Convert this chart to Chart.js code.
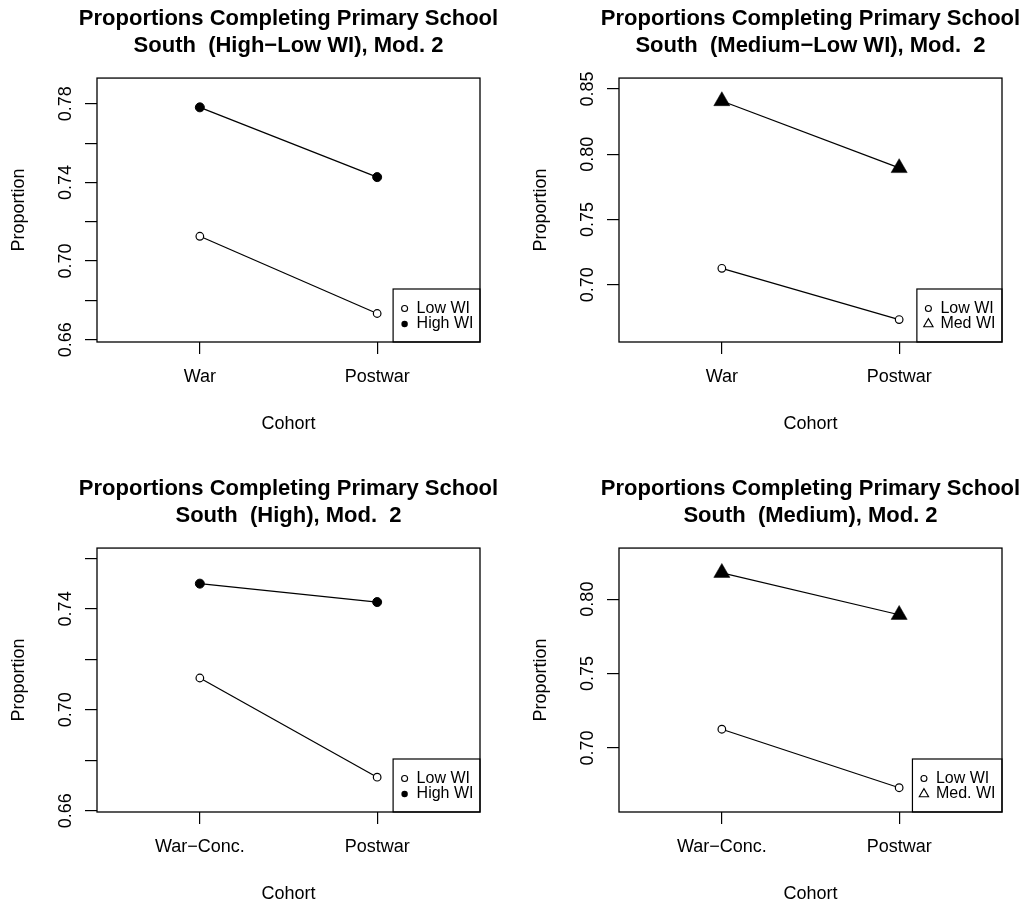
<!DOCTYPE html>
<html>
<head>
<meta charset="utf-8">
<title>Proportions Completing Primary School</title>
<script src="https://cdn.jsdelivr.net/npm/chart.js@4.4.1/dist/chart.umd.min.js"></script>
<style>
  html, body { margin: 0; padding: 0; background: #fff; overflow: hidden; width: 1026px; height: 907px; }
  canvas { position: absolute; }
</style>
</head>
<body>
<canvas id="highLow" width="577" height="453" style="left:0;top:0"></canvas>
<canvas id="medLow" width="577" height="453" style="left:522px;top:0"></canvas>
<canvas id="high" width="577" height="437" style="left:0;top:470px"></canvas>
<canvas id="medium" width="577" height="437" style="left:522px;top:470px"></canvas>
<script>
// cohorts on the x axis
const warCohorts = ['War', 'Postwar'];
const concCohorts = ['War\u2212Conc.', 'Postwar'];

// predicted proportions, Mod. 2
const lowWI = [0.7126, 0.6733];
const highWI = [0.7782, 0.7427];
const medWI = [0.8408, 0.7895];
const highWIConc = [0.7500, 0.7427];
const medWIConc = [0.8177, 0.7895];

// y ticks; R leaves out labels that would collide
const ticksHighLow = [0.66, 0.68, 0.70, 0.72, 0.74, 0.76, 0.78];
const labelsHighLow = ['0.66', '', '0.70', '', '0.74', '', '0.78'];
const ticksMedLow = [0.70, 0.75, 0.80, 0.85];
const labelsMedLow = ['0.70', '0.75', '0.80', '0.85'];
const ticksHigh = [0.66, 0.68, 0.70, 0.72, 0.74, 0.76];
const labelsHigh = ['0.66', '', '0.70', '', '0.74', ''];
const ticksMedium = [0.70, 0.75, 0.80];
const labelsMedium = ['0.70', '0.75', '0.80'];

const BLACK = '#000';
const FONT = "'Liberation Sans', Arial, Helvetica, sans-serif";

function series(label, values, mark) {
  const ds = {
    label: label,
    data: values.map((v, i) => ({ x: i + 1, y: v })),
    yAxisID: 'y',
    borderColor: BLACK,
    borderWidth: 1.25,
    pointBorderColor: BLACK,
    legendMark: mark
  };
  if (mark === 'open') {
    Object.assign(ds, { pointStyle: 'circle', pointRadius: 3.8, pointBorderWidth: 1.2, pointBackgroundColor: '#fff' });
  } else if (mark === 'dot') {
    Object.assign(ds, { pointStyle: 'circle', pointRadius: 4.5, pointBorderWidth: 1, pointBackgroundColor: BLACK });
  } else {
    Object.assign(ds, { pointStyle: 'triangle', pointRadius: 9.3, pointBorderWidth: 0.5, pointBackgroundColor: BLACK });
  }
  ds.pointHoverRadius = ds.pointRadius;
  return ds;
}

// small legend symbols (the triangle is hollow in the key)
function drawMark(ctx, mark, x, y) {
  ctx.beginPath();
  ctx.lineWidth = 1.1;
  ctx.strokeStyle = BLACK;
  ctx.fillStyle = BLACK;
  if (mark === 'open') {
    ctx.arc(x, y, 3, 0, Math.PI * 2);
    ctx.stroke();
  } else if (mark === 'dot') {
    ctx.arc(x, y, 3.2, 0, Math.PI * 2);
    ctx.fill();
  } else {
    const r = 5.4;
    ctx.moveTo(x, y - r);
    ctx.lineTo(x + r * 0.866, y + r / 2);
    ctx.lineTo(x - r * 0.866, y + r / 2);
    ctx.closePath();
    ctx.stroke();
  }
}

// legend box sitting in the bottom-right corner of the plot
const cornerLegend = {
  id: 'cornerLegend',
  afterDatasetsDraw(chart) {
    const { ctx, chartArea: a } = chart;
    const sets = chart.data.datasets;
    ctx.save();
    ctx.font = '16px ' + FONT;
    const w = Math.max(...sets.map(d => ctx.measureText(d.label).width)) + 30;
    const h = 53;
    const x0 = a.right - w, y0 = a.bottom - h;
    ctx.fillStyle = '#fff';
    ctx.fillRect(x0, y0, w, h);
    ctx.strokeStyle = BLACK;
    ctx.lineWidth = 1.2;
    ctx.strokeRect(x0, y0, w, h);
    sets.forEach((d, i) => {
      const y = a.bottom - 33.5 + i * 15.5;
      drawMark(ctx, d.legendMark, x0 + 11.5, y);
      ctx.fillStyle = BLACK;
      ctx.textAlign = 'left';
      ctx.textBaseline = 'middle';
      ctx.fillText(d.label, x0 + 23.5, y);
    });
    ctx.restore();
  }
};

// box around the plot region
const plotFrame = {
  id: 'plotFrame',
  afterDraw(chart) {
    const { ctx, chartArea: a } = chart;
    ctx.save();
    ctx.strokeStyle = BLACK;
    ctx.lineWidth = 1.3;
    ctx.strokeRect(a.left, a.top, a.right - a.left, a.bottom - a.top);
    ctx.restore();
  }
};

function panel(id, title, cats, sets, yMin, yMax, ticks, labels) {
  const canvas = document.getElementById(id);
  const W = canvas.width, H = canvas.height;
  return new Chart(canvas, {
    type: 'line',
    data: { datasets: sets },
    options: {
      responsive: false,
      animation: false,
      devicePixelRatio: 1,
      layout: { padding: 0 },
      plugins: {
        legend: { display: false },
        tooltip: { enabled: false },
        title: {
          display: true,
          text: title,
          color: BLACK,
          font: { family: FONT, size: 22, weight: 'bold', lineHeight: 1.24 },
          padding: { top: 5.5, bottom: 18 }
        }
      },
      scales: {
        x: {
          type: 'linear',
          min: 0.42,
          max: 2.58,
          afterBuildTicks: s => { s.ticks = cats.map((c, i) => ({ value: i + 1 })); },
          afterFit: s => { s.height = H - 342; },
          ticks: {
            callback: v => cats[v - 1],
            color: BLACK,
            font: { family: FONT, size: 18 },
            padding: 12,
            maxRotation: 0,
            autoSkip: false
          },
          grid: { drawOnChartArea: false, color: BLACK, lineWidth: 1.2, tickLength: 12 },
          border: { display: false },
          title: {
            display: true,
            text: 'Cohort',
            color: BLACK,
            font: { family: FONT, size: 18 },
            padding: { top: 0, bottom: H - 434.6 }
          }
        },
        y: {
          min: yMin,
          max: yMax,
          afterBuildTicks: s => { s.ticks = ticks.map(v => ({ value: v })); },
          afterFit: s => { s.width = 97; },
          ticks: {
            callback: (v, i) => labels[i],
            color: BLACK,
            font: { family: FONT, size: 18 },
            minRotation: 90,
            maxRotation: 90,
            crossAlign: 'center',
            align: 'end',
            padding: -8,
            autoSkip: false
          },
          grid: { drawOnChartArea: false, color: BLACK, lineWidth: 1.2, tickLength: 12 },
          border: { display: false },
          title: {
            display: true,
            text: 'Proportion',
            color: BLACK,
            font: { family: FONT, size: 18 },
            padding: { top: 8.5, bottom: 0 }
          }
        },
        // empty right-hand margin so the plot box ends where R puts it
        spacer: {
          type: 'linear',
          position: 'right',
          display: true,
          ticks: { display: false },
          grid: { display: false },
          border: { display: false },
          afterFit: s => { s.width = W - 480; }
        }
      }
    },
    plugins: [cornerLegend, plotFrame]
  });
}

panel('highLow',
  ['Proportions Completing Primary School', 'South  (High\u2212Low WI), Mod. 2'],
  warCohorts,
  [series('Low WI', lowWI, 'open'), series('High WI', highWI, 'dot')],
  0.6588, 0.7931, ticksHighLow, labelsHighLow);

panel('medLow',
  ['Proportions Completing Primary School', 'South  (Medium\u2212Low WI), Mod.  2'],
  warCohorts,
  [series('Low WI', lowWI, 'open'), series('Med WI', medWI, 'tri')],
  0.6561, 0.8584, ticksMedLow, labelsMedLow);

panel('high',
  ['Proportions Completing Primary School', 'South  (High), Mod.  2'],
  concCohorts,
  [series('Low WI', lowWI, 'open'), series('High WI', highWIConc, 'dot')],
  0.6595, 0.7641, ticksHigh, labelsHigh);

panel('medium',
  ['Proportions Completing Primary School', 'South  (Medium), Mod. 2'],
  concCohorts,
  [series('Low WI', lowWI, 'open'), series('Med. WI', medWIConc, 'tri')],
  0.657, 0.8343, ticksMedium, labelsMedium);
</script>
</body>
</html>
